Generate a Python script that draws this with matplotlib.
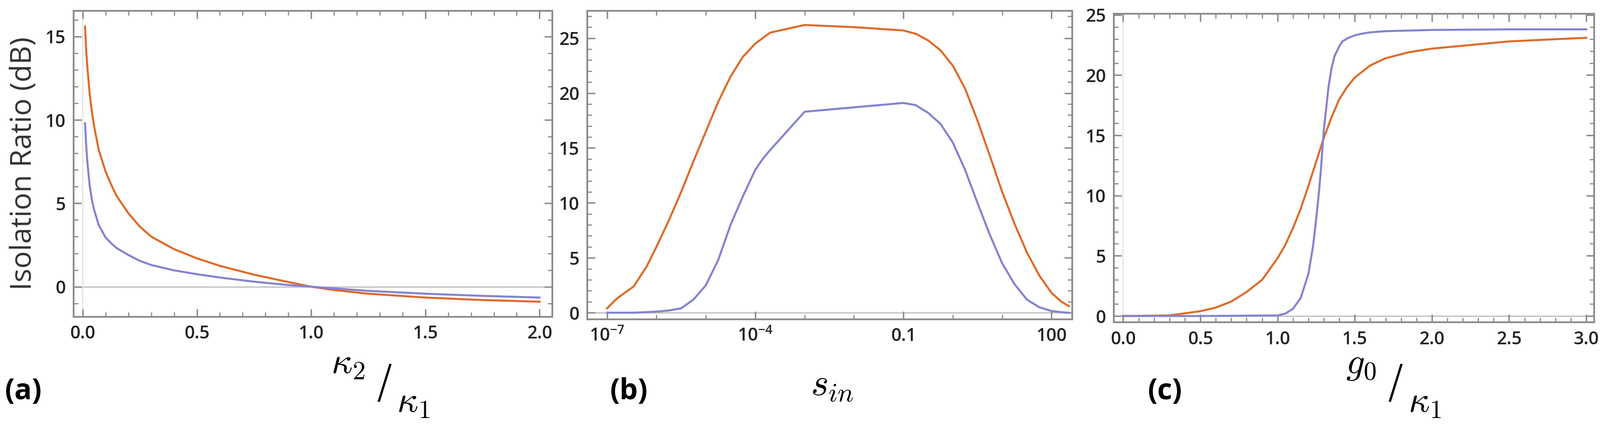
import matplotlib
matplotlib.use("Agg")
import matplotlib.pyplot as plt
from matplotlib.ticker import AutoMinorLocator, FixedLocator, FixedFormatter
import numpy as np

# Panel (a)
a_x = [0.01, 0.015, 0.02, 0.03, 0.04, 0.05, 0.07, 0.1, 0.125, 0.15, 0.2, 0.25, 0.3, 0.4, 0.5, 0.6, 0.75, 0.9, 1.0, 1.1, 1.25, 1.5, 1.75, 2.0]
a_orange = [15.6, 14.2, 13.2, 11.6, 10.5, 9.6, 8.2, 6.9, 6.1, 5.4, 4.4, 3.6, 3.0, 2.25, 1.7, 1.25, 0.72, 0.28, 0.0, -0.2, -0.42, -0.65, -0.8, -0.9]
a_blue = [9.8, 8.5, 7.5, 6.1, 5.2, 4.6, 3.7, 2.95, 2.6, 2.3, 1.9, 1.55, 1.3, 0.98, 0.75, 0.55, 0.3, 0.1, 0.0, -0.1, -0.25, -0.42, -0.55, -0.65]

# Panel (b) (log10 of s_in)
b_logx = [-7.0, -6.8, -6.46, -6.2, -6.0, -5.75, -5.5, -5.25, -5.0, -4.75, -4.5, -4.25, -4.0, -3.85, -3.7, -3.5, -3.0, -2.0, -1.0, -0.75, -0.5, -0.25, 0.0, 0.25, 0.5, 0.75, 1.0, 1.25, 1.5, 1.75, 2.0, 2.2, 2.35]
b_orange = [0.4, 1.3, 2.4, 4.2, 6.0, 8.4, 11.0, 13.8, 16.5, 19.2, 21.5, 23.3, 24.5, 25.0, 25.5, 25.7, 26.2, 26.0, 25.7, 25.4, 24.8, 23.9, 22.5, 20.4, 17.5, 14.3, 11.0, 8.1, 5.5, 3.4, 1.8, 1.0, 0.6]
b_blue = [0.0, 0.0, 0.0, 0.05, 0.1, 0.2, 0.4, 1.2, 2.5, 4.8, 8.0, 10.6, 13.0, 14.0, 14.8, 15.8, 18.3, 18.7, 19.1, 18.9, 18.2, 17.2, 15.5, 13.0, 10.0, 7.1, 4.5, 2.6, 1.2, 0.5, 0.15, 0.05, 0.0]

# Panel (c)
c_x = [0.0, 0.3, 0.5, 0.6, 0.7, 0.8, 0.9, 1.0, 1.05, 1.1, 1.15, 1.2, 1.25, 1.3, 1.35, 1.4, 1.45, 1.5, 1.6, 1.7, 1.85, 2.0, 2.25, 2.5, 2.75, 3.0]
c_orange = [0.0, 0.05, 0.4, 0.7, 1.2, 2.0, 3.0, 4.8, 5.9, 7.3, 8.9, 10.8, 12.8, 14.8, 16.5, 18.0, 19.0, 19.8, 20.8, 21.4, 21.9, 22.2, 22.5, 22.8, 22.95, 23.1]
c_blue_x = [0.0, 0.5, 1.0, 1.05, 1.1, 1.15, 1.2, 1.23, 1.25, 1.27, 1.28, 1.3, 1.32, 1.33, 1.35, 1.37, 1.4, 1.42, 1.46, 1.5, 1.55, 1.6, 1.7, 2.0, 2.5, 3.0]
c_blue = [0.0, 0.0, 0.05, 0.2, 0.6, 1.5, 3.5, 5.8, 8.0, 10.5, 12.0, 15.5, 17.8, 19.0, 20.6, 21.6, 22.4, 22.8, 23.1, 23.3, 23.45, 23.55, 23.65, 23.75, 23.8, 23.8]

ORANGE = "#DE6B2A"
BLUE = "#8383CF"
FRAME = "#8a8a8a"
TICKC = "#222222"

fig = plt.figure(figsize=(38.48, 10.28), dpi=100)
plt.rcParams["font.family"] = "Open Sans"
plt.rcParams["mathtext.fontset"] = "cm"

boxes = [(0.046, 0.26, 0.299, 0.715), (0.367, 0.254, 0.303, 0.721), (0.696, 0.247, 0.300, 0.721)]
axs = [fig.add_axes(b) for b in boxes]

def style(ax):
    for s in ax.spines.values():
        s.set_color(FRAME); s.set_linewidth(3)
    ax.tick_params(which="both", direction="in", top=True, right=True, color=FRAME,
                   labelsize=31, labelcolor=TICKC, pad=14)
    ax.tick_params(which="major", length=14, width=2.5)
    ax.tick_params(which="minor", length=8, width=2)
    for lab in ax.get_xticklabels() + ax.get_yticklabels():
        lab.set_fontweight("semibold")

lw = 3.5
ax = axs[0]
ax.plot(a_x, a_orange, color=ORANGE, lw=lw)
ax.plot(a_x, a_blue, color=BLUE, lw=lw)
ax.axhline(0, color="#bbbbbb", lw=2, zorder=0)
ax.axvline(0, color="#dddddd", lw=1.5, zorder=0)
ax.set_xlim(-0.04, 2.055); ax.set_ylim(-1.8, 16.55)
ax.set_xticks([0, 0.5, 1.0, 1.5, 2.0]); ax.set_xticklabels(["0.0", "0.5", "1.0", "1.5", "2.0"])
ax.set_yticks([0, 5, 10, 15])
ax.xaxis.set_minor_locator(AutoMinorLocator(5)); ax.yaxis.set_minor_locator(AutoMinorLocator(5))
ax.set_ylabel("Isolation Ratio (dB)", fontsize=50, color="#333333", labelpad=12)
style(ax)

ax = axs[1]
ax.plot(b_logx, b_orange, color=ORANGE, lw=lw)
ax.plot(b_logx, b_blue, color=BLUE, lw=lw)
ax.axhline(0, color="#bbbbbb", lw=2, zorder=0)
ax.set_xlim(-7.4, 2.42); ax.set_ylim(-0.6, 27.5)
ax.xaxis.set_major_locator(FixedLocator([-7, -4, -1, 2]))
ax.xaxis.set_major_formatter(FixedFormatter([r"$\mathregular{10^{-7}}$", r"$\mathregular{10^{-4}}$", "0.1", "100"]))
ax.xaxis.set_minor_locator(FixedLocator([-6, -5, -3, -2, 0, 1]))
ax.set_yticks([0, 5, 10, 15, 20, 25])
ax.yaxis.set_minor_locator(AutoMinorLocator(5))
style(ax)

ax = axs[2]
ax.plot(c_x, c_orange, color=ORANGE, lw=lw)
ax.plot(c_blue_x, c_blue, color=BLUE, lw=lw)
ax.axhline(0, color="#bbbbbb", lw=2, zorder=0)
ax.axvline(0, color="#dddddd", lw=1.5, zorder=0)
ax.set_xlim(-0.06, 3.05); ax.set_ylim(-0.52, 25.1)
ax.set_xticks([0, 0.5, 1.0, 1.5, 2.0, 2.5, 3.0]); ax.set_xticklabels(["0.0", "0.5", "1.0", "1.5", "2.0", "2.5", "3.0"])
ax.set_yticks([0, 5, 10, 15, 20, 25])
ax.xaxis.set_minor_locator(AutoMinorLocator(5)); ax.yaxis.set_minor_locator(AutoMinorLocator(5))
style(ax)

# x labels (slashed fractions)
def frac(xc, num, den):
    fig.text(xc - 0.012, 0.15, num, fontsize=64, ha="right", va="center")
    fig.text(xc, 0.10, "/", fontsize=80, ha="center", va="center", fontfamily="DejaVu Sans", fontweight="light")
    fig.text(xc + 0.008, 0.06, den, fontsize=64, ha="left", va="center")

frac(0.240, r"$\kappa_2$", r"$\kappa_1$")
fig.text(0.52, 0.10, r"$s_{in}$", fontsize=66, ha="center", va="center")
frac(0.872, r"$g_0$", r"$\kappa_1$")
for x, t in [(0.003, "(a)"), (0.381, "(b)"), (0.717, "(c)")]:
    fig.text(x, 0.085, t, fontsize=50, fontweight="bold", ha="left", va="center")

fig.savefig("out.png", dpi=100, facecolor="white")
